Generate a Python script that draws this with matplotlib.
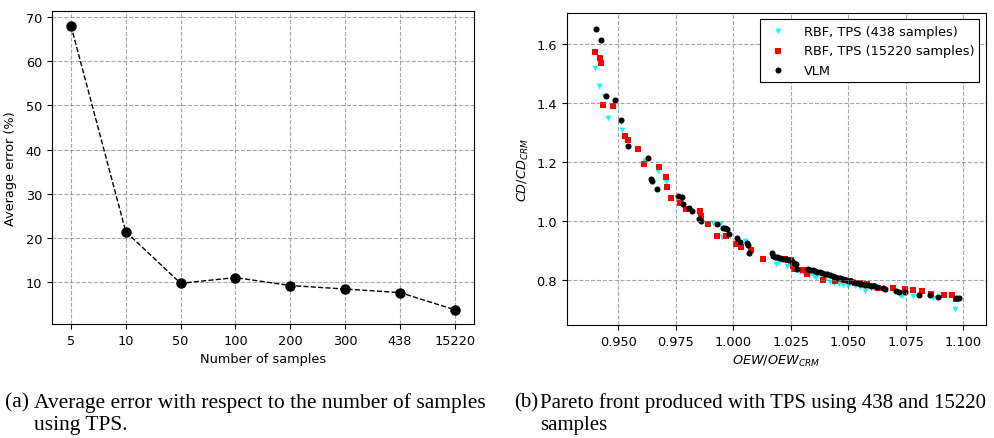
import matplotlib
matplotlib.use("Agg")
import matplotlib.pyplot as plt

# (a) average error vs number of samples
samples = ["5", "10", "50", "100", "200", "300", "438", "15220"]
avg_err = [68.1, 21.4, 9.7, 11.0, 9.2, 8.4, 7.6, 3.7]

# (b) Pareto fronts, OEW/OEW_CRM vs CD/CD_CRM
tps438_x = [0.9401, 0.9417, 0.9438, 0.9457, 0.9512, 0.9515, 0.9616, 0.9674, 0.9707,
            0.9775, 0.9913, 0.9942, 0.9950, 1.0051, 1.0072, 1.0188, 1.0200, 1.0235,
            1.0250, 1.0275, 1.0290, 1.0310, 1.0330, 1.0350, 1.0362, 1.0380, 1.0400,
            1.0420, 1.0440, 1.0460, 1.0478, 1.0500, 1.0529, 1.0550, 1.0573, 1.0600,
            1.0630, 1.0725, 1.0732, 1.0783, 1.0870, 1.0964]
tps438_y = [1.518, 1.460, 1.426, 1.350, 1.337, 1.310, 1.205, 1.171, 1.133,
            1.063, 0.992, 0.989, 0.944, 0.933, 0.887, 0.852, 0.860, 0.845,
            0.842, 0.832, 0.826, 0.820, 0.815, 0.812, 0.808, 0.803, 0.798,
            0.792, 0.788, 0.786, 0.783, 0.780, 0.777, 0.774, 0.763, 0.772,
            0.770, 0.749, 0.746, 0.744, 0.739, 0.700]

tps15220_x = [0.9400, 0.9420, 0.9425, 0.9432, 0.9478, 0.9528, 0.9543, 0.9586, 0.9614,
              0.9678, 0.9710, 0.9713, 0.9728, 0.9768, 0.9797, 0.9855, 0.9859, 0.9891,
              0.9930, 0.9967, 1.0014, 1.0032, 1.0076, 1.0128, 1.0224, 1.0239, 1.0250,
              1.0261, 1.0264, 1.0304, 1.0319, 1.0389, 1.0442, 1.0480, 1.0507, 1.0530,
              1.0551, 1.0580, 1.0609, 1.0630, 1.0693, 1.0746, 1.0783, 1.0819, 1.0858,
              1.0916, 1.0952, 1.0968]
tps15220_y = [1.573, 1.555, 1.535, 1.395, 1.392, 1.290, 1.276, 1.244, 1.192,
              1.184, 1.150, 1.116, 1.079, 1.062, 1.040, 1.033, 1.018, 0.989,
              0.950, 0.947, 0.921, 0.910, 0.900, 0.870, 0.872, 0.868, 0.866,
              0.846, 0.838, 0.834, 0.819, 0.798, 0.797, 0.800, 0.795, 0.790,
              0.788, 0.784, 0.777, 0.773, 0.772, 0.768, 0.764, 0.760, 0.753,
              0.747, 0.747, 0.734]

vlm_x = [0.9404, 0.9426, 0.9449, 0.9488, 0.9512, 0.9543, 0.9630, 0.9641, 0.9645,
         0.9668, 0.9758, 0.9777, 0.9783, 0.9807, 0.9819, 0.9852, 0.9858, 0.9928,
         0.9954, 0.9965, 0.9975, 0.9981, 1.0016, 1.0029, 1.0059, 1.0064, 1.0068,
         1.0168, 1.0174, 1.0180, 1.0192, 1.0205, 1.0218, 1.0230, 1.0242, 1.0254,
         1.0265, 1.0273, 1.0278, 1.0326, 1.0335, 1.0345, 1.0355, 1.0365, 1.0376,
         1.0387, 1.0398, 1.0410, 1.0420, 1.0432, 1.0443, 1.0455, 1.0466, 1.0478,
         1.0490, 1.0502, 1.0514, 1.0526, 1.0538, 1.0550, 1.0562, 1.0575, 1.0588,
         1.0600, 1.0612, 1.0625, 1.0652, 1.0660, 1.0710, 1.0722, 1.0747, 1.0809,
         1.0855, 1.0889, 1.0968, 1.0983]
vlm_y = [1.652, 1.616, 1.424, 1.411, 1.344, 1.254, 1.212, 1.142, 1.134,
         1.108, 1.086, 1.082, 1.057, 1.045, 1.032, 1.006, 0.999, 0.989,
         0.976, 0.975, 0.972, 0.954, 0.943, 0.928, 0.926, 0.919, 0.892,
         0.891, 0.879, 0.877, 0.876, 0.874, 0.872, 0.869, 0.866, 0.862,
         0.858, 0.853, 0.838, 0.836, 0.834, 0.832, 0.829, 0.827, 0.825,
         0.823, 0.821, 0.818, 0.815, 0.812, 0.810, 0.807, 0.805, 0.802,
         0.800, 0.797, 0.795, 0.792, 0.789, 0.787, 0.785, 0.783, 0.781,
         0.779, 0.777, 0.775, 0.771, 0.767, 0.763, 0.757, 0.759, 0.749,
         0.748, 0.740, 0.739, 0.738]

FS = 9.3
plt.rcParams["font.size"] = FS

fig = plt.figure(figsize=(9.95, 4.39), dpi=100)

# ---- left panel
ax1 = fig.add_axes([0.052, 0.2597, 0.4244, 0.712])
pos = list(range(len(samples)))
ax1.plot(pos, avg_err, "--o", color="black", lw=1, ms=6.5)
ax1.set_xticks(pos)
ax1.set_xticklabels(samples)
ax1.set_xlim(-0.35, len(samples) - 0.65)
ax1.set_xlabel("Number of samples", fontsize=FS)
ax1.set_ylabel("Average error (%)", fontsize=FS, labelpad=6)
ax1.grid(True, ls="--", color="gray", alpha=0.7, lw=0.8)
ax1.tick_params(labelsize=FS)

# ---- right panel
ax2 = fig.add_axes([0.5695, 0.2574, 0.4214, 0.7107])
ax2.scatter(tps438_x, tps438_y, marker="v", color="cyan", s=17, lw=0,
            label="RBF, TPS (438 samples)")
ax2.scatter(tps15220_x, tps15220_y, marker="s", color="red", s=17, lw=0,
            label="RBF, TPS (15220 samples)")
ax2.scatter(vlm_x, vlm_y, marker="o", color="black", s=19, lw=0, label="VLM")
ax2.set_xlim(0.9276, 1.1099)
ax2.set_ylim(0.646, 1.7065)
ax2.set_xticks([0.950, 0.975, 1.000, 1.025, 1.050, 1.075, 1.100])
ax2.set_xticklabels(["0.950", "0.975", "1.000", "1.025", "1.050", "1.075", "1.100"])
ax2.set_yticks([0.8, 1.0, 1.2, 1.4, 1.6])
ax2.set_xlabel("$OEW/OEW_{CRM}$", fontsize=FS)
ax2.set_ylabel("$CD/CD_{CRM}$", fontsize=FS)
ax2.grid(True, ls="--", color="gray", alpha=0.7, lw=0.8)
ax2.tick_params(labelsize=FS)
leg = ax2.legend(loc="upper right", scatterpoints=1, fancybox=False,
                 edgecolor="black", framealpha=1, fontsize=FS,
                 borderpad=0.4, handletextpad=1.0, labelspacing=0.5)
leg.get_frame().set_linewidth(0.8)

# ---- captions
cap_a = dict(family="Liberation Serif", fontsize=15.5, va="center", ha="left")
cap_b = dict(family="Liberation Serif", fontsize=15.0, va="center", ha="left")
fig.text(0.005, 1 - 403 / 439, "(a)", **cap_a)
fig.text(0.034, 1 - 403 / 439, "Average error with respect to the number of samples", **cap_a)
fig.text(0.034, 1 - 426 / 439, "using TPS.", **cap_a)
fig.text(0.517, 1 - 403 / 439, "(b)", **cap_b)
fig.text(0.543, 1 - 403 / 439, "Pareto front produced with TPS using 438 and 15220", **cap_b)
fig.text(0.543, 1 - 426 / 439, "samples", **cap_b)

fig.savefig("out.png", dpi=100)
